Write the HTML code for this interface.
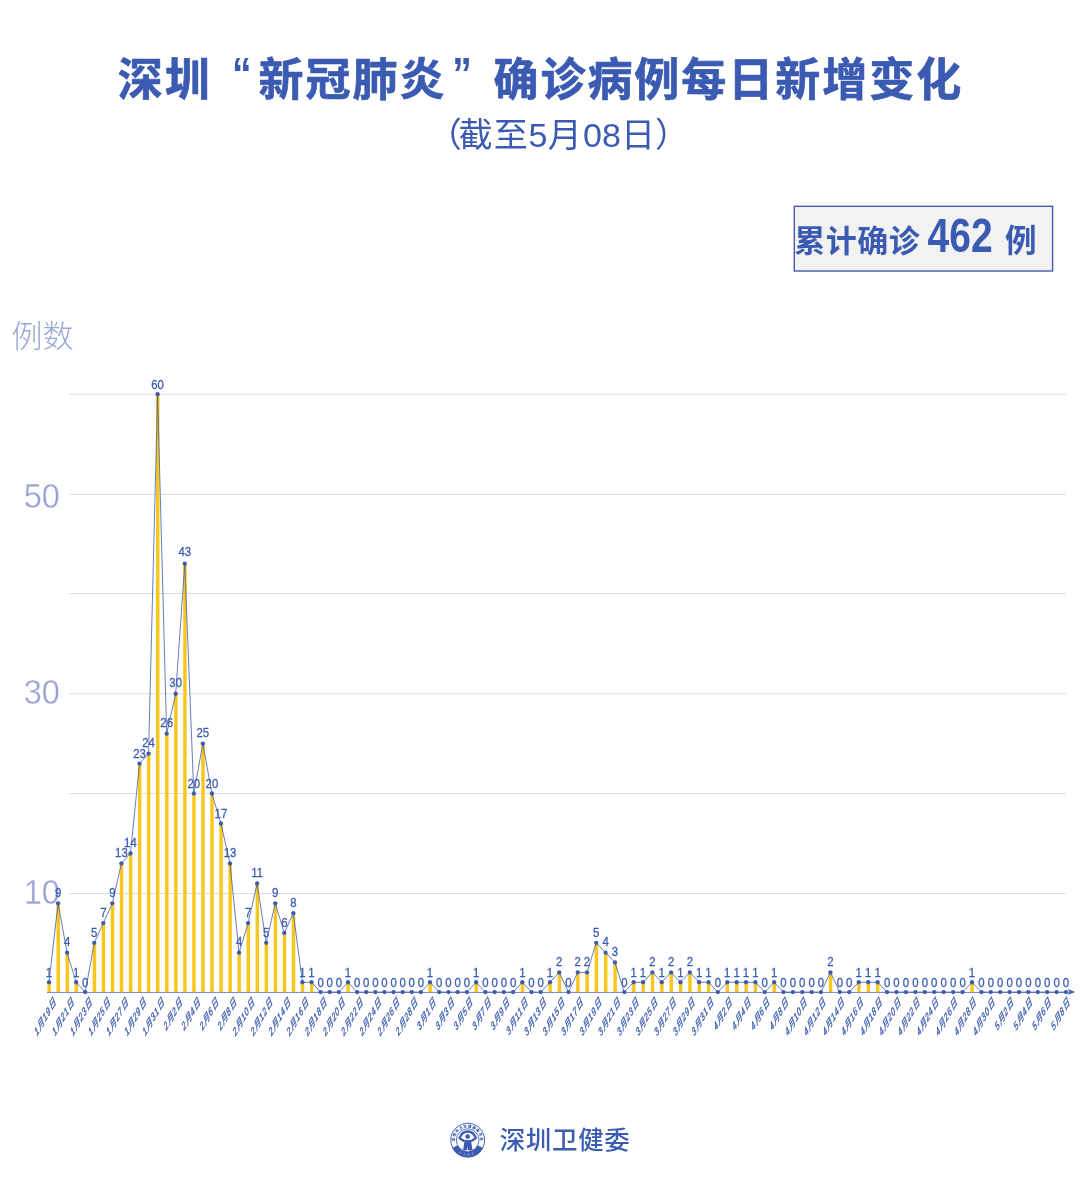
<!DOCTYPE html>
<html lang="zh-CN">
<head>
<meta charset="utf-8">
<title>深圳“新冠肺炎”确诊病例每日新增变化</title>
<style>
html,body{margin:0;padding:0;background:#fff;}
body{width:1080px;height:1184px;overflow:hidden;font-family:"Liberation Sans", "Noto Sans CJK SC", sans-serif;}
svg{display:block;}
text{font-family:"Liberation Sans", "Noto Sans CJK SC", sans-serif;}
.t1{font-size:45px;font-weight:700;fill:#3b5bb2;stroke:#3b5bb2;stroke-width:0.7;stroke-linejoin:round;}
.tq{font-size:46px;font-weight:700;fill:#3b5bb2;stroke:none;}
.t2{font-size:34.1px;font-weight:400;fill:#3b5bb2;}
.bx{font-size:31px;font-weight:700;fill:#3b5bb2;}
.bn{font-size:47.5px;font-weight:700;fill:#3b5bb2;}
.yl{font-size:31px;font-weight:300;fill:#9aa8d6;}
.yn{font-size:35.4px;font-weight:400;fill:#98a1d4;text-anchor:end;stroke:#fff;stroke-width:0.4px;}
.dl{font-size:13.1px;fill:#3b5bb2;text-anchor:middle;stroke:#3b5bb2;stroke-width:0.3px;}
.xl{font-size:11.7px;font-style:italic;fill:#3b5bb2;text-anchor:end;stroke:#3b5bb2;stroke-width:0.4px;letter-spacing:1.1px;}
.ft{font-size:25.5px;font-weight:500;fill:#3b5bb2;}
</style>
</head>
<body>
<svg width="1080" height="1184" viewBox="0 0 1080 1184" role="img" aria-label="深圳新冠肺炎确诊病例每日新增变化">
<rect width="1080" height="1184" fill="#ffffff"/>
<text class="t1"><tspan x="117.7" y="96">深</tspan><tspan x="164.67" y="96">圳</tspan><tspan class="tq" x="232" y="90" textLength="19.55" lengthAdjust="spacingAndGlyphs">“</tspan><tspan x="258.61" y="96">新</tspan><tspan x="305.58" y="96">冠</tspan><tspan x="352.55" y="96">肺</tspan><tspan x="399.52" y="96">炎</tspan><tspan class="tq" x="452.3" y="90" textLength="19.55" lengthAdjust="spacingAndGlyphs">”</tspan><tspan x="493.46" y="96">确</tspan><tspan x="540.43" y="96">诊</tspan><tspan x="587.4" y="96">病</tspan><tspan x="634.37" y="96">例</tspan><tspan x="681.34" y="96">每</tspan><tspan x="728.31" y="96">日</tspan><tspan x="775.28" y="96">新</tspan><tspan x="822.25" y="96">增</tspan><tspan x="869.22" y="96">变</tspan><tspan x="916.19" y="96">化</tspan></text>
<text class="t2" x="558.4" y="146.9" text-anchor="middle" dx="0 -3.3 1.1 0.7 0.4 1.1 0 0 0">（截至5月08日）</text>
<rect x="794.3" y="206.3" width="258.3" height="64.7" fill="#f2f2f3" stroke="#465ca8" stroke-width="1.4"/>
<text class="bx" x="794.2" y="251.8" letter-spacing="0.5">累计确诊</text>
<text class="bn" x="927.6" y="252.4" textLength="65.2" lengthAdjust="spacingAndGlyphs">462</text>
<text class="bx" x="1005" y="252" style="font-size:31.6px">例</text>
<text class="yl" x="11.5" y="347.3">例数</text>
<line x1="69.5" x2="1066" y1="893.5" y2="893.5" stroke="#dddde0" stroke-width="1"/>
<line x1="69.5" x2="1066" y1="793.5" y2="793.5" stroke="#dddde0" stroke-width="1"/>
<line x1="69.5" x2="1066" y1="693.75" y2="693.75" stroke="#dddde0" stroke-width="1"/>
<line x1="69.5" x2="1066" y1="593.5" y2="593.5" stroke="#dddde0" stroke-width="1"/>
<line x1="69.5" x2="1066" y1="494.4" y2="494.4" stroke="#dddde0" stroke-width="1"/>
<line x1="69.5" x2="1066" y1="394.25" y2="394.25" stroke="#dddde0" stroke-width="1"/>
<text class="yn" transform="translate(59.9 904.2) scale(0.92 1)">10</text>
<text class="yn" transform="translate(59.9 704.3) scale(0.92 1)">30</text>
<text class="yn" transform="translate(59.9 507.5) scale(0.92 1)">50</text>
<g fill="#f7c71d">
<rect x="47.42" y="982.24" width="3.45" height="10.46"/>
<rect x="56.47" y="903.36" width="3.45" height="89.34"/>
<rect x="65.53" y="952.66" width="3.45" height="40.04"/>
<rect x="74.58" y="982.24" width="3.45" height="10.46"/>
<rect x="92.68" y="942.8" width="3.45" height="49.9"/>
<rect x="101.72" y="923.08" width="3.45" height="69.62"/>
<rect x="110.78" y="903.36" width="3.45" height="89.34"/>
<rect x="119.83" y="863.5" width="3.45" height="129.2"/>
<rect x="128.88" y="853.5" width="3.45" height="139.2"/>
<rect x="137.93" y="763.58" width="3.45" height="229.12"/>
<rect x="146.98" y="753.6" width="3.45" height="239.1"/>
<rect x="156.02" y="394.25" width="3.45" height="598.45"/>
<rect x="165.08" y="733.65" width="3.45" height="259.05"/>
<rect x="174.12" y="693.75" width="3.45" height="298.95"/>
<rect x="183.18" y="563.77" width="3.45" height="428.93"/>
<rect x="192.22" y="793.5" width="3.45" height="199.2"/>
<rect x="201.28" y="743.62" width="3.45" height="249.08"/>
<rect x="210.32" y="793.5" width="3.45" height="199.2"/>
<rect x="219.38" y="823.5" width="3.45" height="169.2"/>
<rect x="228.43" y="863.5" width="3.45" height="129.2"/>
<rect x="237.47" y="952.66" width="3.45" height="40.04"/>
<rect x="246.52" y="923.08" width="3.45" height="69.62"/>
<rect x="255.57" y="883.5" width="3.45" height="109.2"/>
<rect x="264.62" y="942.8" width="3.45" height="49.9"/>
<rect x="273.67" y="903.36" width="3.45" height="89.34"/>
<rect x="282.72" y="932.94" width="3.45" height="59.76"/>
<rect x="291.77" y="913.22" width="3.45" height="79.48"/>
<rect x="300.82" y="982.24" width="3.45" height="10.46"/>
<rect x="309.94" y="982.24" width="3.45" height="10.46"/>
<rect x="346.4" y="982.24" width="3.45" height="10.46"/>
<rect x="428.42" y="982.24" width="3.45" height="10.46"/>
<rect x="474.57" y="982.24" width="3.45" height="10.46"/>
<rect x="520.72" y="982.24" width="3.45" height="10.46"/>
<rect x="548.42" y="982.24" width="3.45" height="10.46"/>
<rect x="557.67" y="972.38" width="3.45" height="20.32"/>
<rect x="576.17" y="972.38" width="3.45" height="20.32"/>
<rect x="585.42" y="972.38" width="3.45" height="20.32"/>
<rect x="594.67" y="942.8" width="3.45" height="49.9"/>
<rect x="604.03" y="952.66" width="3.45" height="40.04"/>
<rect x="613.38" y="962.52" width="3.45" height="30.18"/>
<rect x="632.09" y="982.24" width="3.45" height="10.46"/>
<rect x="641.45" y="982.24" width="3.45" height="10.46"/>
<rect x="650.8" y="972.38" width="3.45" height="20.32"/>
<rect x="660.15" y="982.24" width="3.45" height="10.46"/>
<rect x="669.51" y="972.38" width="3.45" height="20.32"/>
<rect x="678.86" y="982.24" width="3.45" height="10.46"/>
<rect x="688.22" y="972.38" width="3.45" height="20.32"/>
<rect x="697.57" y="982.24" width="3.45" height="10.46"/>
<rect x="706.92" y="982.24" width="3.45" height="10.46"/>
<rect x="725.67" y="982.24" width="3.45" height="10.46"/>
<rect x="735.05" y="982.24" width="3.45" height="10.46"/>
<rect x="744.42" y="982.24" width="3.45" height="10.46"/>
<rect x="753.8" y="982.24" width="3.45" height="10.46"/>
<rect x="772.55" y="982.24" width="3.45" height="10.46"/>
<rect x="828.82" y="972.38" width="3.45" height="20.32"/>
<rect x="857.14" y="982.24" width="3.45" height="10.46"/>
<rect x="866.58" y="982.24" width="3.45" height="10.46"/>
<rect x="876.02" y="982.24" width="3.45" height="10.46"/>
<rect x="970.42" y="982.24" width="3.45" height="10.46"/>
</g>
<line x1="47" x2="1070" y1="992.45" y2="992.45" stroke="#7a86c6" stroke-width="1"/>
<path d="M1075.2 992.1 L1067.6 989.1 L1069.6 992.1 L1067.6 995.1 Z" fill="#3b5bb2"/>
<polyline points="49,982.24 58.05,903.36 67.1,952.66 76.15,982.24 85.2,992.1 94.25,942.8 103.3,923.08 112.35,903.36 121.4,863.5 130.45,853.5 139.5,763.58 148.55,753.6 157.6,394.25 166.65,733.65 175.7,693.75 184.75,563.77 193.8,793.5 202.85,743.62 211.9,793.5 220.95,823.5 230,863.5 239.05,952.66 248.1,923.08 257.15,883.5 266.2,942.8 275.25,903.36 284.3,932.94 293.35,913.22 302.4,982.24 311.51,982.24 320.63,992.1 329.74,992.1 338.86,992.1 347.97,982.24 357.09,992.1 366.2,992.1 375.31,992.1 384.43,992.1 393.54,992.1 402.66,992.1 411.77,992.1 420.89,992.1 430,982.24 439.23,992.1 448.46,992.1 457.69,992.1 466.92,992.1 476.15,982.24 485.38,992.1 494.6,992.1 503.83,992.1 513.06,992.1 522.29,982.24 531.52,992.1 540.75,992.1 550,982.24 559.25,972.38 568.5,992.1 577.75,972.38 587,972.38 596.25,942.8 605.6,952.66 614.96,962.52 624.31,992.1 633.67,982.24 643.02,982.24 652.38,972.38 661.73,982.24 671.08,972.38 680.44,982.24 689.79,972.38 699.15,982.24 708.5,982.24 717.88,992.1 727.25,982.24 736.62,982.24 746,982.24 755.38,982.24 764.75,992.1 774.12,982.24 783.5,992.1 792.88,992.1 802.26,992.1 811.64,992.1 821.02,992.1 830.4,972.38 839.84,992.1 849.28,992.1 858.72,982.24 868.16,982.24 877.6,982.24 887.04,992.1 896.48,992.1 905.92,992.1 915.36,992.1 924.8,992.1 934.24,992.1 943.68,992.1 953.12,992.1 962.56,992.1 972,982.24 981.4,992.1 990.8,992.1 1000.2,992.1 1009.6,992.1 1019,992.1 1028.4,992.1 1037.8,992.1 1047.2,992.1 1056.6,992.1 1066,992.1" fill="none" stroke="#435da6" stroke-width="0.8" stroke-linejoin="round"/>
<g fill="#3b5bb2">
<circle cx="49" cy="982.24" r="2.15"/>
<circle cx="58.05" cy="903.36" r="2.15"/>
<circle cx="67.1" cy="952.66" r="2.15"/>
<circle cx="76.15" cy="982.24" r="2.15"/>
<circle cx="85.2" cy="992.1" r="2.15"/>
<circle cx="94.25" cy="942.8" r="2.15"/>
<circle cx="103.3" cy="923.08" r="2.15"/>
<circle cx="112.35" cy="903.36" r="2.15"/>
<circle cx="121.4" cy="863.5" r="2.15"/>
<circle cx="130.45" cy="853.5" r="2.15"/>
<circle cx="139.5" cy="763.58" r="2.15"/>
<circle cx="148.55" cy="753.6" r="2.15"/>
<circle cx="157.6" cy="394.25" r="2.15"/>
<circle cx="166.65" cy="733.65" r="2.15"/>
<circle cx="175.7" cy="693.75" r="2.15"/>
<circle cx="184.75" cy="563.77" r="2.15"/>
<circle cx="193.8" cy="793.5" r="2.15"/>
<circle cx="202.85" cy="743.62" r="2.15"/>
<circle cx="211.9" cy="793.5" r="2.15"/>
<circle cx="220.95" cy="823.5" r="2.15"/>
<circle cx="230" cy="863.5" r="2.15"/>
<circle cx="239.05" cy="952.66" r="2.15"/>
<circle cx="248.1" cy="923.08" r="2.15"/>
<circle cx="257.15" cy="883.5" r="2.15"/>
<circle cx="266.2" cy="942.8" r="2.15"/>
<circle cx="275.25" cy="903.36" r="2.15"/>
<circle cx="284.3" cy="932.94" r="2.15"/>
<circle cx="293.35" cy="913.22" r="2.15"/>
<circle cx="302.4" cy="982.24" r="2.15"/>
<circle cx="311.51" cy="982.24" r="2.15"/>
<circle cx="320.63" cy="992.1" r="2.15"/>
<circle cx="329.74" cy="992.1" r="2.15"/>
<circle cx="338.86" cy="992.1" r="2.15"/>
<circle cx="347.97" cy="982.24" r="2.15"/>
<circle cx="357.09" cy="992.1" r="2.15"/>
<circle cx="366.2" cy="992.1" r="2.15"/>
<circle cx="375.31" cy="992.1" r="2.15"/>
<circle cx="384.43" cy="992.1" r="2.15"/>
<circle cx="393.54" cy="992.1" r="2.15"/>
<circle cx="402.66" cy="992.1" r="2.15"/>
<circle cx="411.77" cy="992.1" r="2.15"/>
<circle cx="420.89" cy="992.1" r="2.15"/>
<circle cx="430" cy="982.24" r="2.15"/>
<circle cx="439.23" cy="992.1" r="2.15"/>
<circle cx="448.46" cy="992.1" r="2.15"/>
<circle cx="457.69" cy="992.1" r="2.15"/>
<circle cx="466.92" cy="992.1" r="2.15"/>
<circle cx="476.15" cy="982.24" r="2.15"/>
<circle cx="485.38" cy="992.1" r="2.15"/>
<circle cx="494.6" cy="992.1" r="2.15"/>
<circle cx="503.83" cy="992.1" r="2.15"/>
<circle cx="513.06" cy="992.1" r="2.15"/>
<circle cx="522.29" cy="982.24" r="2.15"/>
<circle cx="531.52" cy="992.1" r="2.15"/>
<circle cx="540.75" cy="992.1" r="2.15"/>
<circle cx="550" cy="982.24" r="2.15"/>
<circle cx="559.25" cy="972.38" r="2.15"/>
<circle cx="568.5" cy="992.1" r="2.15"/>
<circle cx="577.75" cy="972.38" r="2.15"/>
<circle cx="587" cy="972.38" r="2.15"/>
<circle cx="596.25" cy="942.8" r="2.15"/>
<circle cx="605.6" cy="952.66" r="2.15"/>
<circle cx="614.96" cy="962.52" r="2.15"/>
<circle cx="624.31" cy="992.1" r="2.15"/>
<circle cx="633.67" cy="982.24" r="2.15"/>
<circle cx="643.02" cy="982.24" r="2.15"/>
<circle cx="652.38" cy="972.38" r="2.15"/>
<circle cx="661.73" cy="982.24" r="2.15"/>
<circle cx="671.08" cy="972.38" r="2.15"/>
<circle cx="680.44" cy="982.24" r="2.15"/>
<circle cx="689.79" cy="972.38" r="2.15"/>
<circle cx="699.15" cy="982.24" r="2.15"/>
<circle cx="708.5" cy="982.24" r="2.15"/>
<circle cx="717.88" cy="992.1" r="2.15"/>
<circle cx="727.25" cy="982.24" r="2.15"/>
<circle cx="736.62" cy="982.24" r="2.15"/>
<circle cx="746" cy="982.24" r="2.15"/>
<circle cx="755.38" cy="982.24" r="2.15"/>
<circle cx="764.75" cy="992.1" r="2.15"/>
<circle cx="774.12" cy="982.24" r="2.15"/>
<circle cx="783.5" cy="992.1" r="2.15"/>
<circle cx="792.88" cy="992.1" r="2.15"/>
<circle cx="802.26" cy="992.1" r="2.15"/>
<circle cx="811.64" cy="992.1" r="2.15"/>
<circle cx="821.02" cy="992.1" r="2.15"/>
<circle cx="830.4" cy="972.38" r="2.15"/>
<circle cx="839.84" cy="992.1" r="2.15"/>
<circle cx="849.28" cy="992.1" r="2.15"/>
<circle cx="858.72" cy="982.24" r="2.15"/>
<circle cx="868.16" cy="982.24" r="2.15"/>
<circle cx="877.6" cy="982.24" r="2.15"/>
<circle cx="887.04" cy="992.1" r="2.15"/>
<circle cx="896.48" cy="992.1" r="2.15"/>
<circle cx="905.92" cy="992.1" r="2.15"/>
<circle cx="915.36" cy="992.1" r="2.15"/>
<circle cx="924.8" cy="992.1" r="2.15"/>
<circle cx="934.24" cy="992.1" r="2.15"/>
<circle cx="943.68" cy="992.1" r="2.15"/>
<circle cx="953.12" cy="992.1" r="2.15"/>
<circle cx="962.56" cy="992.1" r="2.15"/>
<circle cx="972" cy="982.24" r="2.15"/>
<circle cx="981.4" cy="992.1" r="2.15"/>
<circle cx="990.8" cy="992.1" r="2.15"/>
<circle cx="1000.2" cy="992.1" r="2.15"/>
<circle cx="1009.6" cy="992.1" r="2.15"/>
<circle cx="1019" cy="992.1" r="2.15"/>
<circle cx="1028.4" cy="992.1" r="2.15"/>
<circle cx="1037.8" cy="992.1" r="2.15"/>
<circle cx="1047.2" cy="992.1" r="2.15"/>
<circle cx="1056.6" cy="992.1" r="2.15"/>
<circle cx="1066" cy="992.1" r="2.15"/>
</g>
<g>
<text class="dl" transform="translate(49 977.24) scale(0.87 1)">1</text>
<text class="dl" transform="translate(58.05 897.06) scale(0.87 1)">9</text>
<text class="dl" transform="translate(67.1 946.36) scale(0.87 1)">4</text>
<text class="dl" transform="translate(76.15 977.24) scale(0.87 1)">1</text>
<text class="dl" transform="translate(85.2 986.6) scale(0.87 1)">0</text>
<text class="dl" transform="translate(94.25 936.5) scale(0.87 1)">5</text>
<text class="dl" transform="translate(103.3 916.78) scale(0.87 1)">7</text>
<text class="dl" transform="translate(112.35 897.06) scale(0.87 1)">9</text>
<text class="dl" transform="translate(121.4 857.2) scale(0.87 1)">13</text>
<text class="dl" transform="translate(130.45 847.2) scale(0.87 1)">14</text>
<text class="dl" transform="translate(139.5 757.78) scale(0.87 1)">23</text>
<text class="dl" transform="translate(148.55 747.3) scale(0.87 1)">24</text>
<text class="dl" transform="translate(157.6 389.25) scale(0.87 1)">60</text>
<text class="dl" transform="translate(166.65 727.35) scale(0.87 1)">26</text>
<text class="dl" transform="translate(175.7 687.15) scale(0.87 1)">30</text>
<text class="dl" transform="translate(184.75 556.37) scale(0.87 1)">43</text>
<text class="dl" transform="translate(193.8 787.9) scale(0.87 1)">20</text>
<text class="dl" transform="translate(202.85 737.33) scale(0.87 1)">25</text>
<text class="dl" transform="translate(211.9 787.9) scale(0.87 1)">20</text>
<text class="dl" transform="translate(220.95 817.9) scale(0.87 1)">17</text>
<text class="dl" transform="translate(230 857.2) scale(0.87 1)">13</text>
<text class="dl" transform="translate(239.05 946.36) scale(0.87 1)">4</text>
<text class="dl" transform="translate(248.1 916.78) scale(0.87 1)">7</text>
<text class="dl" transform="translate(257.15 877.2) scale(0.87 1)">11</text>
<text class="dl" transform="translate(266.2 936.5) scale(0.87 1)">5</text>
<text class="dl" transform="translate(275.25 897.06) scale(0.87 1)">9</text>
<text class="dl" transform="translate(284.3 926.64) scale(0.87 1)">6</text>
<text class="dl" transform="translate(293.35 906.92) scale(0.87 1)">8</text>
<text class="dl" transform="translate(302.4 977.24) scale(0.87 1)">1</text>
<text class="dl" transform="translate(311.51 977.24) scale(0.87 1)">1</text>
<text class="dl" transform="translate(320.63 986.6) scale(0.87 1)">0</text>
<text class="dl" transform="translate(329.74 986.6) scale(0.87 1)">0</text>
<text class="dl" transform="translate(338.86 986.6) scale(0.87 1)">0</text>
<text class="dl" transform="translate(347.97 977.24) scale(0.87 1)">1</text>
<text class="dl" transform="translate(357.09 986.6) scale(0.87 1)">0</text>
<text class="dl" transform="translate(366.2 986.6) scale(0.87 1)">0</text>
<text class="dl" transform="translate(375.31 986.6) scale(0.87 1)">0</text>
<text class="dl" transform="translate(384.43 986.6) scale(0.87 1)">0</text>
<text class="dl" transform="translate(393.54 986.6) scale(0.87 1)">0</text>
<text class="dl" transform="translate(402.66 986.6) scale(0.87 1)">0</text>
<text class="dl" transform="translate(411.77 986.6) scale(0.87 1)">0</text>
<text class="dl" transform="translate(420.89 986.6) scale(0.87 1)">0</text>
<text class="dl" transform="translate(430 977.24) scale(0.87 1)">1</text>
<text class="dl" transform="translate(439.23 986.6) scale(0.87 1)">0</text>
<text class="dl" transform="translate(448.46 986.6) scale(0.87 1)">0</text>
<text class="dl" transform="translate(457.69 986.6) scale(0.87 1)">0</text>
<text class="dl" transform="translate(466.92 986.6) scale(0.87 1)">0</text>
<text class="dl" transform="translate(476.15 977.24) scale(0.87 1)">1</text>
<text class="dl" transform="translate(485.38 986.6) scale(0.87 1)">0</text>
<text class="dl" transform="translate(494.6 986.6) scale(0.87 1)">0</text>
<text class="dl" transform="translate(503.83 986.6) scale(0.87 1)">0</text>
<text class="dl" transform="translate(513.06 986.6) scale(0.87 1)">0</text>
<text class="dl" transform="translate(522.29 977.24) scale(0.87 1)">1</text>
<text class="dl" transform="translate(531.52 986.6) scale(0.87 1)">0</text>
<text class="dl" transform="translate(540.75 986.6) scale(0.87 1)">0</text>
<text class="dl" transform="translate(550 977.24) scale(0.87 1)">1</text>
<text class="dl" transform="translate(559.25 966.08) scale(0.87 1)">2</text>
<text class="dl" transform="translate(568.5 986.6) scale(0.87 1)">0</text>
<text class="dl" transform="translate(577.75 966.08) scale(0.87 1)">2</text>
<text class="dl" transform="translate(587 966.08) scale(0.87 1)">2</text>
<text class="dl" transform="translate(596.25 936.5) scale(0.87 1)">5</text>
<text class="dl" transform="translate(605.6 946.36) scale(0.87 1)">4</text>
<text class="dl" transform="translate(614.96 956.22) scale(0.87 1)">3</text>
<text class="dl" transform="translate(624.31 986.6) scale(0.87 1)">0</text>
<text class="dl" transform="translate(633.67 977.24) scale(0.87 1)">1</text>
<text class="dl" transform="translate(643.02 977.24) scale(0.87 1)">1</text>
<text class="dl" transform="translate(652.38 966.08) scale(0.87 1)">2</text>
<text class="dl" transform="translate(661.73 977.24) scale(0.87 1)">1</text>
<text class="dl" transform="translate(671.08 966.08) scale(0.87 1)">2</text>
<text class="dl" transform="translate(680.44 977.24) scale(0.87 1)">1</text>
<text class="dl" transform="translate(689.79 966.08) scale(0.87 1)">2</text>
<text class="dl" transform="translate(699.15 977.24) scale(0.87 1)">1</text>
<text class="dl" transform="translate(708.5 977.24) scale(0.87 1)">1</text>
<text class="dl" transform="translate(717.88 986.6) scale(0.87 1)">0</text>
<text class="dl" transform="translate(727.25 977.24) scale(0.87 1)">1</text>
<text class="dl" transform="translate(736.62 977.24) scale(0.87 1)">1</text>
<text class="dl" transform="translate(746 977.24) scale(0.87 1)">1</text>
<text class="dl" transform="translate(755.38 977.24) scale(0.87 1)">1</text>
<text class="dl" transform="translate(764.75 986.6) scale(0.87 1)">0</text>
<text class="dl" transform="translate(774.12 977.24) scale(0.87 1)">1</text>
<text class="dl" transform="translate(783.5 986.6) scale(0.87 1)">0</text>
<text class="dl" transform="translate(792.88 986.6) scale(0.87 1)">0</text>
<text class="dl" transform="translate(802.26 986.6) scale(0.87 1)">0</text>
<text class="dl" transform="translate(811.64 986.6) scale(0.87 1)">0</text>
<text class="dl" transform="translate(821.02 986.6) scale(0.87 1)">0</text>
<text class="dl" transform="translate(830.4 966.08) scale(0.87 1)">2</text>
<text class="dl" transform="translate(839.84 986.6) scale(0.87 1)">0</text>
<text class="dl" transform="translate(849.28 986.6) scale(0.87 1)">0</text>
<text class="dl" transform="translate(858.72 977.24) scale(0.87 1)">1</text>
<text class="dl" transform="translate(868.16 977.24) scale(0.87 1)">1</text>
<text class="dl" transform="translate(877.6 977.24) scale(0.87 1)">1</text>
<text class="dl" transform="translate(887.04 986.6) scale(0.87 1)">0</text>
<text class="dl" transform="translate(896.48 986.6) scale(0.87 1)">0</text>
<text class="dl" transform="translate(905.92 986.6) scale(0.87 1)">0</text>
<text class="dl" transform="translate(915.36 986.6) scale(0.87 1)">0</text>
<text class="dl" transform="translate(924.8 986.6) scale(0.87 1)">0</text>
<text class="dl" transform="translate(934.24 986.6) scale(0.87 1)">0</text>
<text class="dl" transform="translate(943.68 986.6) scale(0.87 1)">0</text>
<text class="dl" transform="translate(953.12 986.6) scale(0.87 1)">0</text>
<text class="dl" transform="translate(962.56 986.6) scale(0.87 1)">0</text>
<text class="dl" transform="translate(972 977.24) scale(0.87 1)">1</text>
<text class="dl" transform="translate(981.4 986.6) scale(0.87 1)">0</text>
<text class="dl" transform="translate(990.8 986.6) scale(0.87 1)">0</text>
<text class="dl" transform="translate(1000.2 986.6) scale(0.87 1)">0</text>
<text class="dl" transform="translate(1009.6 986.6) scale(0.87 1)">0</text>
<text class="dl" transform="translate(1019 986.6) scale(0.87 1)">0</text>
<text class="dl" transform="translate(1028.4 986.6) scale(0.87 1)">0</text>
<text class="dl" transform="translate(1037.8 986.6) scale(0.87 1)">0</text>
<text class="dl" transform="translate(1047.2 986.6) scale(0.87 1)">0</text>
<text class="dl" transform="translate(1056.6 986.6) scale(0.87 1)">0</text>
<text class="dl" transform="translate(1066 986.6) scale(0.87 1)">0</text>
</g>
<g>
<text class="xl" transform="translate(56.75 1002.3) scale(0.58 1) rotate(-45)">1月19日</text>
<text class="xl" transform="translate(74.79 1002.3) scale(0.58 1) rotate(-45)">1月21日</text>
<text class="xl" transform="translate(92.83 1002.3) scale(0.58 1) rotate(-45)">1月23日</text>
<text class="xl" transform="translate(110.88 1002.3) scale(0.58 1) rotate(-45)">1月25日</text>
<text class="xl" transform="translate(128.92 1002.3) scale(0.58 1) rotate(-45)">1月27日</text>
<text class="xl" transform="translate(146.96 1002.3) scale(0.58 1) rotate(-45)">1月29日</text>
<text class="xl" transform="translate(165 1002.3) scale(0.58 1) rotate(-45)">1月31日</text>
<text class="xl" transform="translate(183.04 1002.3) scale(0.58 1) rotate(-45)">2月2日</text>
<text class="xl" transform="translate(201.08 1002.3) scale(0.58 1) rotate(-45)">2月4日</text>
<text class="xl" transform="translate(219.13 1002.3) scale(0.58 1) rotate(-45)">2月6日</text>
<text class="xl" transform="translate(237.17 1002.3) scale(0.58 1) rotate(-45)">2月8日</text>
<text class="xl" transform="translate(255.21 1002.3) scale(0.58 1) rotate(-45)">2月10日</text>
<text class="xl" transform="translate(273.25 1002.3) scale(0.58 1) rotate(-45)">2月12日</text>
<text class="xl" transform="translate(291.29 1002.3) scale(0.58 1) rotate(-45)">2月14日</text>
<text class="xl" transform="translate(309.34 1002.3) scale(0.58 1) rotate(-45)">2月16日</text>
<text class="xl" transform="translate(327.51 1002.3) scale(0.58 1) rotate(-45)">2月18日</text>
<text class="xl" transform="translate(345.68 1002.3) scale(0.58 1) rotate(-45)">2月20日</text>
<text class="xl" transform="translate(363.85 1002.3) scale(0.58 1) rotate(-45)">2月22日</text>
<text class="xl" transform="translate(382.02 1002.3) scale(0.58 1) rotate(-45)">2月24日</text>
<text class="xl" transform="translate(400.19 1002.3) scale(0.58 1) rotate(-45)">2月26日</text>
<text class="xl" transform="translate(418.36 1002.3) scale(0.58 1) rotate(-45)">2月28日</text>
<text class="xl" transform="translate(436.53 1002.3) scale(0.58 1) rotate(-45)">3月1日</text>
<text class="xl" transform="translate(454.93 1002.3) scale(0.58 1) rotate(-45)">3月3日</text>
<text class="xl" transform="translate(473.33 1002.3) scale(0.58 1) rotate(-45)">3月5日</text>
<text class="xl" transform="translate(491.73 1002.3) scale(0.58 1) rotate(-45)">3月7日</text>
<text class="xl" transform="translate(510.13 1002.3) scale(0.58 1) rotate(-45)">3月9日</text>
<text class="xl" transform="translate(528.53 1002.3) scale(0.58 1) rotate(-45)">3月11日</text>
<text class="xl" transform="translate(546.93 1002.3) scale(0.58 1) rotate(-45)">3月13日</text>
<text class="xl" transform="translate(565.37 1002.3) scale(0.58 1) rotate(-45)">3月15日</text>
<text class="xl" transform="translate(583.81 1002.3) scale(0.58 1) rotate(-45)">3月17日</text>
<text class="xl" transform="translate(602.25 1002.3) scale(0.58 1) rotate(-45)">3月19日</text>
<text class="xl" transform="translate(620.9 1002.3) scale(0.58 1) rotate(-45)">3月21日</text>
<text class="xl" transform="translate(639.55 1002.3) scale(0.58 1) rotate(-45)">3月23日</text>
<text class="xl" transform="translate(658.21 1002.3) scale(0.58 1) rotate(-45)">3月25日</text>
<text class="xl" transform="translate(676.86 1002.3) scale(0.58 1) rotate(-45)">3月27日</text>
<text class="xl" transform="translate(695.51 1002.3) scale(0.58 1) rotate(-45)">3月29日</text>
<text class="xl" transform="translate(714.16 1002.3) scale(0.58 1) rotate(-45)">3月31日</text>
<text class="xl" transform="translate(732.85 1002.3) scale(0.58 1) rotate(-45)">4月2日</text>
<text class="xl" transform="translate(751.54 1002.3) scale(0.58 1) rotate(-45)">4月4日</text>
<text class="xl" transform="translate(770.23 1002.3) scale(0.58 1) rotate(-45)">4月6日</text>
<text class="xl" transform="translate(788.92 1002.3) scale(0.58 1) rotate(-45)">4月8日</text>
<text class="xl" transform="translate(807.62 1002.3) scale(0.58 1) rotate(-45)">4月10日</text>
<text class="xl" transform="translate(826.33 1002.3) scale(0.58 1) rotate(-45)">4月12日</text>
<text class="xl" transform="translate(845.09 1002.3) scale(0.58 1) rotate(-45)">4月14日</text>
<text class="xl" transform="translate(863.91 1002.3) scale(0.58 1) rotate(-45)">4月16日</text>
<text class="xl" transform="translate(882.73 1002.3) scale(0.58 1) rotate(-45)">4月18日</text>
<text class="xl" transform="translate(901.55 1002.3) scale(0.58 1) rotate(-45)">4月20日</text>
<text class="xl" transform="translate(920.38 1002.3) scale(0.58 1) rotate(-45)">4月22日</text>
<text class="xl" transform="translate(939.2 1002.3) scale(0.58 1) rotate(-45)">4月24日</text>
<text class="xl" transform="translate(958.02 1002.3) scale(0.58 1) rotate(-45)">4月26日</text>
<text class="xl" transform="translate(976.84 1002.3) scale(0.58 1) rotate(-45)">4月28日</text>
<text class="xl" transform="translate(995.58 1002.3) scale(0.58 1) rotate(-45)">4月30日</text>
<text class="xl" transform="translate(1014.32 1002.3) scale(0.58 1) rotate(-45)">5月2日</text>
<text class="xl" transform="translate(1033.07 1002.3) scale(0.58 1) rotate(-45)">5月4日</text>
<text class="xl" transform="translate(1051.81 1002.3) scale(0.58 1) rotate(-45)">5月6日</text>
<text class="xl" transform="translate(1070.55 1002.3) scale(0.58 1) rotate(-45)">5月8日</text>
</g>
<g transform="translate(467.7 1140.1)">
<defs>
<path id="arcTop" d="M-12.68 1.78 A12.8 12.8 0 1 1 12.68 1.78"/>
<path id="arcBot" d="M-13.6 7.85 A15.7 15.7 0 0 0 13.6 7.85"/>
</defs>
<circle r="16.9" fill="#ffffff" stroke="#4561b5" stroke-width="1"/>
<path d="M15.41 7.85 A17.3 17.3 0 0 1 -15.41 7.85 L-10.07 5.13 A11.3 11.3 0 0 0 10.07 5.13 Z" fill="#3b5bb2"/>
<circle r="11.3" fill="#ffffff" stroke="#4561b5" stroke-width="0.9"/>
<path d="M-3.3 1.1 L-8.2 -2 Q-5.6 -8.6 0 -8.6 Q5.6 -8.6 8.2 -2 L3.3 1.1" fill="none" stroke="#3b5bb2" stroke-width="2.3" stroke-linejoin="round"/>
<circle cx="0" cy="-3.5" r="2.4" fill="#3b5bb2"/>
<path d="M-3.1 0 L3.2 0 L4.8 9.8 L0.4 9.8 L0 5.4 L-0.4 9.8 L-4.6 9.8 Z" fill="#3b5bb2"/>
<text font-size="3.5" font-weight="900" fill="#3353ad" letter-spacing="0.72" text-anchor="middle"><textPath href="#arcTop" startOffset="50%">深圳市卫生健康委员会</textPath></text>
<text font-size="3.2" font-weight="700" fill="#a9b8ee" letter-spacing="2.6" text-anchor="middle"><textPath href="#arcBot" startOffset="50%">SZHC</textPath></text>
</g>
<text class="ft" x="499.7" y="1149.3" letter-spacing="0.65">深圳卫健委</text>
</svg>
</body>
</html>
